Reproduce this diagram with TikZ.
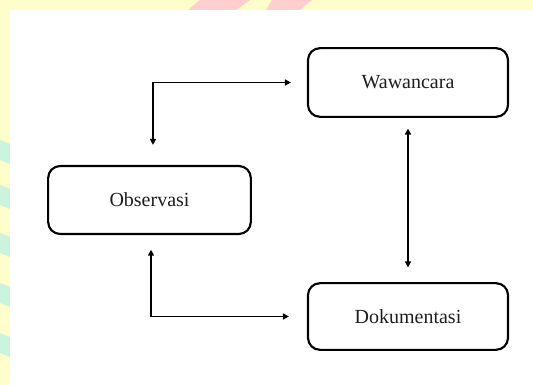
\documentclass[tikz,border=0pt]{standalone}
\usepackage{fontspec}
\setmainfont{Liberation Serif}
\usetikzlibrary{arrows.meta,calc}
\definecolor{wmyellow}{HTML}{FFFDC9}
\definecolor{wmpink}{HTML}{FFCFCF}
\definecolor{wmteal}{HTML}{C9F5DF}
\definecolor{ink}{HTML}{1E1E1E}
\tikzset{
  stagebox/.style={draw=black, line width=1.6pt, rounded corners=9pt,
    minimum width=150pt, minimum height=51pt, inner sep=0pt,
    text=ink, font=\fontsize{15}{18}\selectfont},
  link/.style={draw=black, line width=1.1pt,
    {Triangle[length=4.5pt,width=4.5pt]}-{Triangle[length=4.5pt,width=4.5pt]}},
}
\begin{document}
\begin{tikzpicture}[x=0.75pt,y=-0.75pt]
\useasboundingbox (0,0) rectangle (533,385);
% watermark background
\fill[wmyellow] (0,0) rectangle (533,385);
\fill[wmpink] (188,10) -- (200,0) -- (232,0) -- (220,10) -- cycle;
\fill[wmpink] (218,10) -- (232,0) -- (250,0) -- (236,10) -- cycle;
\fill[wmpink] (266,10) -- (272,0) -- (312,0) -- (300,10) -- cycle;
\foreach \yy in {140,185,233,283,333} {
  \fill[wmteal] (0,\yy) -- (10,\yy+4) -- (10,\yy+24) -- (0,\yy+20) -- cycle;
}
\fill[white] (10,10) rectangle (533,385);
% stages
\node[stagebox, minimum width=150pt, minimum height=51.5pt] (waw) at (408,82.5) {Wawancara};
\node[stagebox, minimum width=152pt, minimum height=51pt] (obs) at (149.5,200) {Observasi};
\node[stagebox, minimum width=150pt, minimum height=50pt] (dok) at (408,316.5) {Dokumentasi};
% connectors
\draw[link, shorten <=15pt, shorten >=12pt] ($(obs.north)+(3.5,0)$) |- (waw.west);
\draw[link, shorten <=11pt, shorten >=13.5pt] ($(obs.south)+(1.5,0)$) |- (dok.west);
\draw[link, shorten <=8pt, shorten >=11pt] (waw.south) -- (dok.north);
\end{tikzpicture}
\end{document}
